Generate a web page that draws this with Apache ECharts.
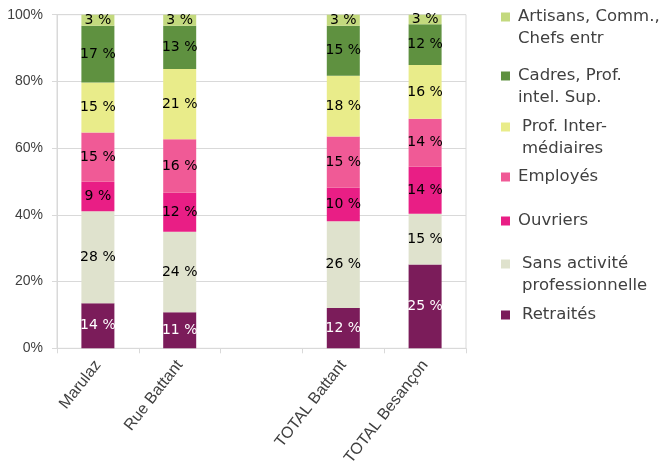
<!DOCTYPE html>
<html><head><meta charset="utf-8">
<script src="https://cdn.jsdelivr.net/npm/echarts@6/dist/echarts.min.js"></script>
<style>html,body{margin:0;padding:0;background:#fff}#c{width:662px;height:464px}</style>
</head><body><div id="c"></div>
<script>
const categories = ['Marulaz', 'Rue Battant', '', 'TOTAL Battant', 'TOTAL Besançon'];
const seriesNames = ['Retraités', 'Sans activité professionnelle', 'Ouvriers', 'Employés', 'Prof. Intermédiaires', 'Cadres, Prof. intel. Sup.', 'Artisans, Comm., Chefs entr'];
const retraites   = [13.5, 10.8, null, 12.1, 25.1];
const sansActivite = [27.6, 24.1, null, 26.0, 15.2];
const ouvriers    = [8.8, 11.7, null, 10.0, 14.1];
const employes    = [14.8, 16.1, null, 15.4, 14.4];
const profInter   = [15.0, 21.0, null, 18.2, 16.1];
const cadres      = [17.0, 13.0, null, 15.0, 12.2];
const artisans    = [3.3, 3.3, null, 3.3, 2.9];
const yTicks = [0, 20, 40, 60, 80, 100];

const values = [retraites, sansActivite, ouvriers, employes, profInter, cadres, artisans];
const colors = ['#7b1c5a', '#dfe2cd', '#e91e85', '#f05a96', '#e9ec8a', '#5f9140', '#c3d97e'];
const legendText = {
  'Artisans, Comm., Chefs entr': 'Artisans, Comm.,\nChefs entr',
  'Cadres, Prof. intel. Sup.': 'Cadres, Prof.\nintel. Sup.',
  'Prof. Intermédiaires': 'Prof. Inter-\nmédiaires',
  'Employés': 'Employés',
  'Ouvriers': 'Ouvriers',
  'Sans activité professionnelle': 'Sans activité\nprofessionnelle',
  'Retraités': 'Retraités'
};
// legend layout: [name, icon center y, text indent]
const legendLayout = [
  ['Artisans, Comm., Chefs entr', 17, 3],
  ['Cadres, Prof. intel. Sup.', 76, 3],
  ['Prof. Intermédiaires', 127, 7],
  ['Employés', 177, 3],
  ['Ouvriers', 221, 3],
  ['Sans activité professionnelle', 264, 7],
  ['Retraités', 315, 7]
];
const LH = 21.5;
const legends = legendLayout.map(([name, y, indent]) => {
  const two = legendText[name].includes('\n');
  return {
    data: [name],
    left: 501,
    top: two ? y - 1.5 * LH : y - LH / 2,
    padding: 0,
    itemWidth: 9,
    itemHeight: 9,
    icon: 'rect',
    selectedMode: false,
    formatter: n => (two ? '\n' : '') + legendText[n],
    textStyle: {
      fontFamily: 'DejaVu Sans', fontSize: 16.5, color: '#404040', lineHeight: LH,
      padding: [0, 0, 0, indent]
    }
  };
});

const chart = echarts.init(document.getElementById('c'), null, {renderer: 'canvas'});
chart.setOption({
  animation: false,
  backgroundColor: '#fff',
  color: colors,
  legend: legends,
  grid: {left: 57, right: 196, top: 14.7, bottom: 115.7, show: true, borderColor: '#d9d9d9', borderWidth: 1, containLabel: false, outerBoundsMode: 'none'},
  xAxis: {
    type: 'category', data: categories,
    axisLine: {lineStyle: {color: '#d9d9d9'}},
    axisTick: {show: true, length: 5, lineStyle: {color: '#d9d9d9'}},
    axisLabel: {rotate: 52, margin: 14, fontFamily: 'Liberation Sans', fontSize: 16, color: '#404040', interval: 0}
  },
  yAxis: {
    type: 'value', min: 0, max: 100, interval: 20,
    axisLine: {show: true, lineStyle: {color: '#d9d9d9'}},
    axisTick: {show: true, length: 5, lineStyle: {color: '#d9d9d9'}},
    splitLine: {lineStyle: {color: '#d9d9d9'}},
    axisLabel: {margin: 14, fontFamily: 'Liberation Sans', fontSize: 14, color: '#404040',
      formatter: v => yTicks.includes(v) ? v + '%' : ''}
  },
  series: seriesNames.map((name, i) => ({
    name, type: 'bar', stack: 'total', barWidth: 33,
    data: values[i],
    itemStyle: {color: colors[i]},
    label: {
      show: true, position: 'inside',
      formatter: p => p.value == null ? '' : Math.round(p.value) + ' %',
      fontFamily: 'DejaVu Sans', fontSize: 14,
      color: i === 0 ? '#ffffff' : '#000000'
    }
  }))
});
</script></body></html>
